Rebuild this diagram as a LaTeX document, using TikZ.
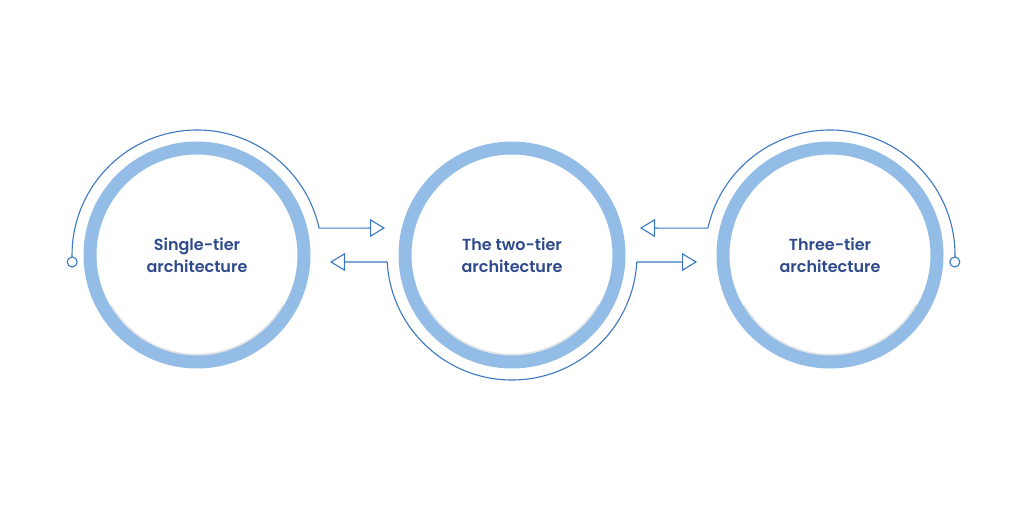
\documentclass[tikz,border=0pt]{standalone}
\usepackage{fontspec}
\setmainfont{Poppins}[BoldFont={* SemiBold}]
\usetikzlibrary{arrows.meta}
\definecolor{ring}{HTML}{93BDE7}
\definecolor{thin}{HTML}{3B78C1}
\definecolor{txt}{HTML}{2F4A8C}
\tikzset{
  ringc/.style={circle, draw=ring, line width=13pt, minimum size=214pt, inner sep=0pt,
    font=\bfseries\fontsize{16}{22}\selectfont, text=txt, align=center},
  conn/.style={draw=thin, line width=1.1pt},
  arr/.style={conn, -{Triangle[open, length=15pt, width=18pt, line width=1.1pt]}},
  endpt/.style={circle, draw=thin, line width=1.1pt, fill=white, minimum size=10pt, inner sep=0pt}
}
\begin{document}
\begin{tikzpicture}[x=1pt,y=-1pt]
\useasboundingbox (0,0) rectangle (1024,512);
\foreach \cx in {197,512,830}{
  \draw[gray!20, line width=2.5pt] (\cx,255) ++(30:100) arc[start angle=30, end angle=150, radius=100];
}
\node[ringc] (a) at (197,255) {Single-tier\\architecture};
\node[ringc] (b) at (512,255) {The two-tier\\architecture};
\node[ringc] (c) at (830,255) {Three-tier\\architecture};
% left arc
\draw[conn] (197,255) ++(-12.4:125) coordinate (a1) arc[start angle=-12.4, end angle=-183.2, radius=125] coordinate (a2);
\node[endpt] (ea) at (a2) {};
\coordinate (ta) at (385,228);
\draw[arr] (a1) -- (ta);
% middle arc
\draw[conn] (512,255) ++(176.8:125) coordinate (b1) arc[start angle=176.8, end angle=3.2, radius=125] coordinate (b2);
\coordinate (tb1) at (330,262);
\coordinate (tb2) at (697,262);
\draw[arr] (b1) -- (tb1);
\draw[arr] (b2) -- (tb2);
% right arc
\draw[conn] (830,255) ++(-167.6:125) coordinate (c1) arc[start angle=-167.6, end angle=3.2, radius=125] coordinate (c2);
\node[endpt] (ec) at (c2) {};
\coordinate (tc) at (640,228);
\draw[arr] (c1) -- (tc);
\end{tikzpicture}
\end{document}
